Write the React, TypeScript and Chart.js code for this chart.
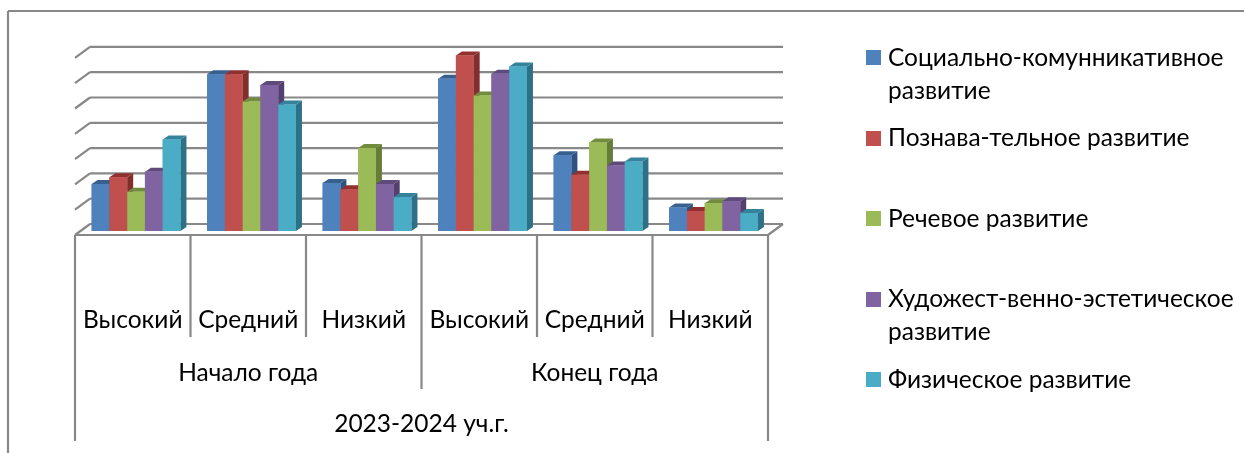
import React, { useEffect, useRef } from "react";
import { Chart, registerables } from "chart.js";

Chart.register(...registerables);

const categories = ["Высокий", "Средний", "Низкий", "Высокий", "Средний", "Низкий"];
const periods = ["Начало года", "Конец года"];
const yearLabel = "2023-2024 уч.г.";
const seriesNames = [
  "Социально-комунникативное развитие",
  "Познава-тельное развитие",
  "Речевое развитие",
  "Художест-венно-эстетическое развитие",
  "Физическое развитие",
];
const social = [18.6, 62, 19, 60.2, 29.9, 9.3];
const cognitive = [21.2, 62, 16.5, 69.4, 22.2, 7.9];
const speech = [15.5, 51.2, 32.8, 53.6, 35, 11];
const artistic = [23.4, 57.7, 18.6, 62.2, 25.9, 11.8];
const physical = [36.2, 50, 13.4, 65, 27.5, 7.1];
const seriesValues = [social, cognitive, speech, artistic, physical];
const colors = ["#4F81BD", "#C0504D", "#9BBB59", "#8064A2", "#4BACC6"];
const sideColors = ["#2F5380", "#802F2D", "#667D38", "#54406E", "#2E7186"];
const topColors = ["#37608F", "#91312F", "#728C3E", "#5F4A7C", "#35839B"];
const legendLines = [
  ["Социально-комунникативное", "развитие"],
  ["Познава-тельное развитие"],
  ["Речевое развитие"],
  ["Художест-венно-эстетическое", "развитие"],
  ["Физическое развитие"],
];
const legendLineY = [[58, 91], [138], [219], [299, 332], [380]];
const legendSwatchY = [50, 131, 211, 292, 372];

const FONT = '24.5px Lato, "Open Sans", sans-serif';
const GRID = "#888888";

const decor = {
  id: "decor",
  beforeDatasetsDraw(chart: any) {
    const { ctx, scales } = chart;
    const x = scales.x;
    const y = scales.y;
    const left = x.left - 3.3;
    const right = x.right - 3.3;
    const line = (x1: number, y1: number, x2: number, y2: number, w = 2.2) => {
      ctx.beginPath();
      ctx.moveTo(x1, y1);
      ctx.lineTo(x2, y2);
      ctx.lineWidth = w;
      ctx.stroke();
    };
    ctx.save();
    ctx.strokeStyle = GRID;
    // outer frame
    line(8, 11, 1244, 11);
    line(8, 11, 8, 453);
    // wall grid lines + floor
    y.ticks.forEach((t: any) => {
      const py = y.getPixelForValue(t.value);
      line(left + 15, py - 7, right + 15, py - 7);
      line(left, py + 4, left + 15, py - 7);
    });
    const base = y.getPixelForValue(0) + 4;
    line(right, base, right + 15, base - 11);
    line(left, base, right, base);
    // multi-level axis separators
    const catW = (right - left) / categories.length;
    for (let i = 1; i < categories.length; i++) {
      if (i !== 3) line(left + catW * i, base, left + catW * i, 337);
    }
    line(left + catW * 3, base, left + catW * 3, 389);
    line(left, base, left, 441);
    line(right, base, right, 441);
    // axis text
    ctx.fillStyle = "#000";
    ctx.font = FONT;
    ctx.textAlign = "center";
    ctx.textBaseline = "middle";
    categories.forEach((c, i) => ctx.fillText(c, left + catW * (i + 0.5), 320));
    periods.forEach((p, i) => ctx.fillText(p, left + catW * (i * 3 + 1.5), 373));
    ctx.fillText(yearLabel, (left + right) / 2, 424);
    // legend
    ctx.textAlign = "left";
    legendLines.forEach((lines, i) => {
      ctx.fillStyle = colors[i];
      ctx.fillRect(866, legendSwatchY[i], 15, 15);
      ctx.fillStyle = "#000";
      lines.forEach((l, j) => ctx.fillText(l, 888, legendLineY[i][j]));
    });
    ctx.restore();
  },
  afterDatasetsDraw(chart: any) {
    const { ctx } = chart;
    const dx = 6;
    const dy = 4;
    seriesValues.forEach((_, d) => {
      const meta = chart.getDatasetMeta(d);
      meta.data.forEach((bar: any) => {
        const { x, y, base, width } = bar.getProps(["x", "y", "base", "width"], true);
        const l = x - width / 2;
        const r = x + width / 2;
        ctx.fillStyle = sideColors[d];
        ctx.beginPath();
        ctx.moveTo(r, y);
        ctx.lineTo(r + dx, y - dy);
        ctx.lineTo(r + dx, base - dy);
        ctx.lineTo(r, base);
        ctx.closePath();
        ctx.fill();
        ctx.fillStyle = topColors[d];
        ctx.beginPath();
        ctx.moveTo(l, y);
        ctx.lineTo(l + dx, y - dy);
        ctx.lineTo(r + dx, y - dy);
        ctx.lineTo(r, y);
        ctx.closePath();
        ctx.fill();
        bar.draw(ctx);
      });
    });
  },
};

export default function App() {
  const ref = useRef<HTMLCanvasElement>(null);
  useEffect(() => {
    const chart = new Chart(ref.current as HTMLCanvasElement, {
      type: "bar",
      data: {
        labels: categories,
        datasets: seriesValues.map((data, i) => ({
          label: seriesNames[i],
          data,
          backgroundColor: colors[i],
          borderWidth: 0,
          barPercentage: 1,
          categoryPercentage: 0.769,
        })),
      },
      options: {
        responsive: false,
        animation: false,
        layout: { padding: { left: 78.3, right: 472.7, top: 53.9, bottom: 222 } },
        plugins: { legend: { display: false }, tooltip: { enabled: false } },
        scales: {
          x: { display: false, grid: { display: false } },
          y: { display: false, min: 0, max: 70, ticks: { stepSize: 10 }, grid: { display: false } },
        },
      },
      plugins: [decor],
    } as any);
    return () => chart.destroy();
  }, []);
  return (
    <div style={{ position: "fixed", left: 0, top: 0, width: 1244, height: 453, background: "#fff" }}>
      <canvas ref={ref} width={1244} height={453} style={{ display: "block" }} />
    </div>
  );
}
